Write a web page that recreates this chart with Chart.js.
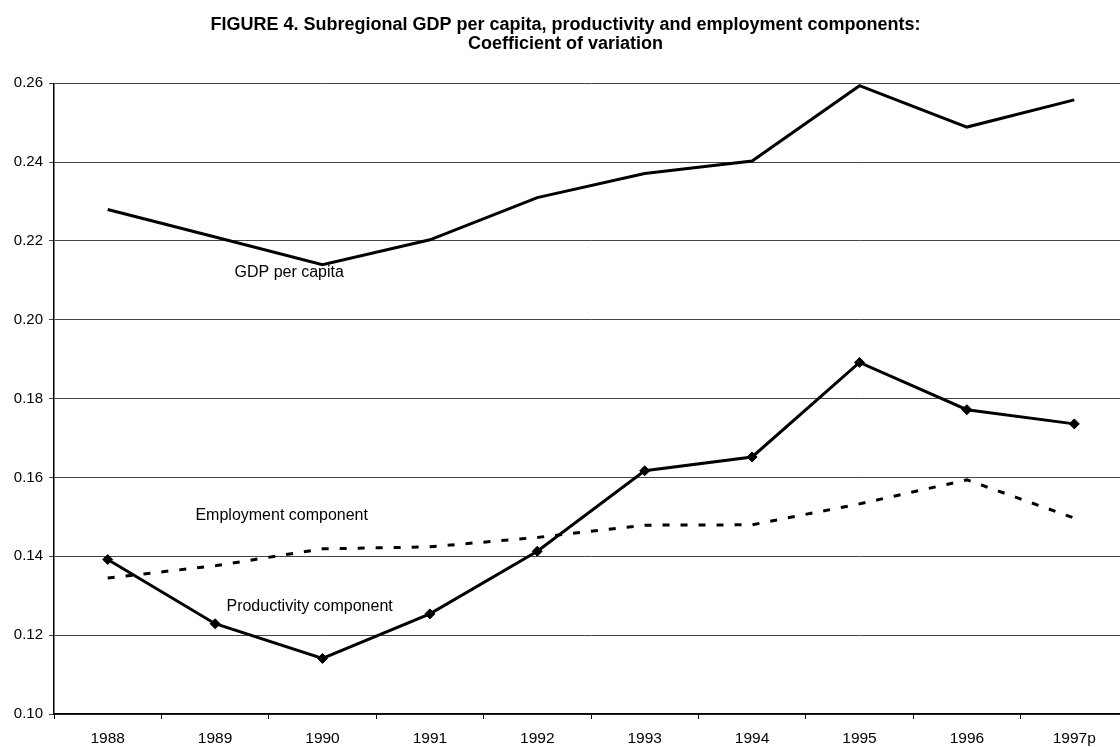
<!DOCTYPE html>
<html>
<head>
<meta charset="utf-8">
<script src="https://cdn.jsdelivr.net/npm/chart.js@4.4.1/dist/chart.umd.min.js"></script>
<style>
  html, body { margin: 0; padding: 0; background: #fff; overflow: hidden; }
  #wrap { width: 1134px; height: 747px; }
</style>
</head>
<body>
<div id="wrap"><canvas id="cvChart"></canvas></div>
<script>
// values
const years = ['1988', '1989', '1990', '1991', '1992', '1993', '1994', '1995', '1996', '1997p'];
const gdpPerCapita = [0.228, 0.221, 0.214, 0.2203, 0.231, 0.2371, 0.2403, 0.2594, 0.2489, 0.2558];
const productivity = [0.1392, 0.1229, 0.1141, 0.1254, 0.1413, 0.1617, 0.1652, 0.1892, 0.1772, 0.1736];
const employment = [0.1345, 0.1376, 0.1419, 0.1424, 0.1448, 0.1479, 0.148, 0.1533, 0.1594, 0.1497];
const yTicks = [0.10, 0.12, 0.14, 0.16, 0.18, 0.20, 0.22, 0.24, 0.26];

const FONT = '"Liberation Sans", Arial, sans-serif';

// text labels placed inside the plot (x = category index, y = value)
const seriesLabels = [
  { text: 'GDP per capita', x: 1.69, y: 0.2119 },
  { text: 'Employment component', x: 1.62, y: 0.1503 },
  { text: 'Productivity component', x: 1.88, y: 0.1272 },
];

const labelPlugin = {
  id: 'seriesLabels',
  afterDatasetsDraw(chart) {
    const { ctx, scales } = chart;
    ctx.save();
    ctx.font = '16px ' + FONT;
    ctx.fillStyle = '#000';
    ctx.textAlign = 'center';
    ctx.textBaseline = 'middle';
    seriesLabels.forEach(l => {
      ctx.fillText(l.text, scales.x.getPixelForValue(l.x), scales.y.getPixelForValue(l.y));
    });
    ctx.restore();
  }
};

new Chart(document.getElementById('cvChart'), {
  type: 'line',
  data: {
    labels: years,
    datasets: [
      {
        label: 'GDP per capita',
        data: gdpPerCapita,
        borderColor: '#000',
        borderWidth: 3,
        pointRadius: 0,
        tension: 0,
      },
      {
        label: 'Productivity component',
        data: productivity,
        borderColor: '#000',
        backgroundColor: '#000',
        borderWidth: 3,
        pointStyle: 'rectRot',
        pointRadius: 5,
        pointBorderWidth: 1,
        tension: 0,
      },
      {
        label: 'Employment component',
        data: employment,
        borderColor: '#000',
        borderWidth: 3,
        borderDash: [7, 11],
        pointRadius: 0,
        tension: 0,
      },
    ],
  },
  options: {
    responsive: true,
    maintainAspectRatio: false,
    animation: false,
    layout: { padding: { left: 0, right: 3, top: 0, bottom: 0 } },
    plugins: {
      legend: { display: false },
      tooltip: { enabled: false },
      title: {
        display: true,
        text: ['FIGURE 4. Subregional GDP per capita, productivity and employment components:', 'Coefficient of variation'],
        color: '#000',
        font: { family: FONT, size: 18, weight: 'bold', lineHeight: 1.05 },
        padding: { top: 16, bottom: 29.5 },
      },
    },
    scales: {
      x: {
        offset: true,
        grid: { offset: true, drawOnChartArea: false, drawTicks: true, tickLength: 5, color: '#000' },
        border: { color: '#000', width: 1.5 },
        ticks: { color: '#000', font: { family: FONT, size: 15.5 }, padding: 10, maxRotation: 0, autoSkip: false },
        afterFit(s) { s.height = 33; },
      },
      y: {
        min: 0.10,
        max: 0.26,
        afterBuildTicks(s) { s.ticks = yTicks.map(v => ({ value: v })); },
        grid: { color: '#444', lineWidth: 1, tickLength: 5 },
        border: { color: '#000', width: 1.5 },
        ticks: { color: '#000', font: { family: FONT, size: 15 }, padding: 6, callback: v => v.toFixed(2) },
        afterFit(s) { s.width = 54; },
      },
    },
  },
  plugins: [labelPlugin],
});
</script>
</body>
</html>
